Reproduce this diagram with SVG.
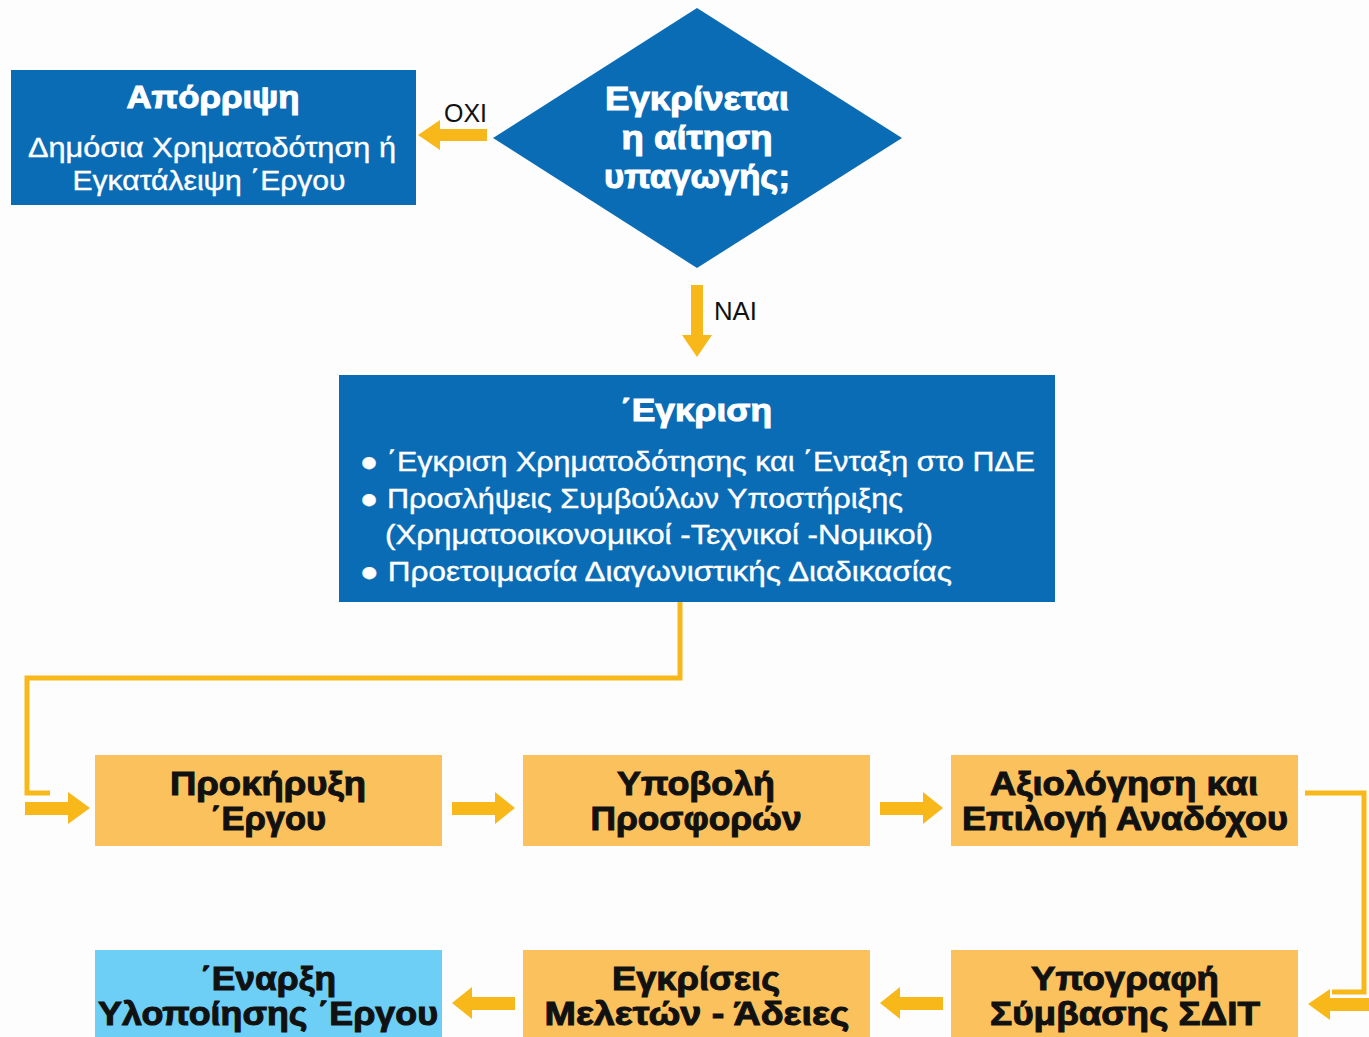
<svg xmlns="http://www.w3.org/2000/svg" width="1369" height="1037" viewBox="0 0 1369 1037">
<style>
.blue{fill:#0b6cb6}
.orange{fill:#fbc15d}
.lblue{fill:#6dcff6}
.arr{fill:#f8b81a}
.wire{fill:none;stroke:#f8b81a;stroke-width:5}
.wt{font-family:"Liberation Sans",Arial,sans-serif;fill:#ffffff;text-anchor:middle;stroke:#ffffff;stroke-width:0.4}
.wb{font-family:"Liberation Sans",Arial,sans-serif;fill:#ffffff;font-weight:bold;text-anchor:middle;stroke:#ffffff;stroke-width:1}
.wl{font-family:"Liberation Sans",Arial,sans-serif;fill:#ffffff;font-size:28px;stroke:#ffffff;stroke-width:0.4}
.bk{font-family:"Liberation Sans",Arial,sans-serif;fill:#111111;font-weight:bold;font-size:33px;text-anchor:middle;stroke:#111111;stroke-width:1}
.lab{font-family:"Liberation Sans",Arial,sans-serif;fill:#111111;font-size:25px}
</style>
<rect width="1369" height="1037" fill="#fdfdfd"/>
<g id="connectors">
  <polygon class="arr" points="487,129 440,129 440,120 418,135 440,150 440,141 487,141"/>
  <text class="lab" x="444" y="122" textLength="43" lengthAdjust="spacingAndGlyphs">OXI</text>
  <polygon class="arr" points="691,285 703,285 703,335 712,335 697,357 682,335 691,335"/>
  <text class="lab" x="714" y="320" textLength="43" lengthAdjust="spacingAndGlyphs">NAI</text>
  <polyline class="wire" points="680,602 680,678 27,678 27,793 50,793"/>
  <polygon class="arr" points="25,802 68,802 68,792 90,808 68,824 68,815 25,815"/>
  <polygon class="arr" points="452,802 495,802 495,792 515,808 495,824 495,815 452,815"/>
  <polygon class="arr" points="880,802 923,802 923,792 943,808 923,824 923,815 880,815"/>
  <polyline class="wire" points="1305,793 1364,793 1364,992 1332,992"/>
  <polygon class="arr" points="1369,998 1330,998 1330,989 1308,1004 1330,1020 1330,1011 1369,1011"/>
  <polygon class="arr" points="943,997 900,997 900,987 880,1003 900,1019 900,1010 943,1010"/>
  <polygon class="arr" points="515,997 472,997 472,987 452,1003 472,1019 472,1010 515,1010"/>
</g>
<g id="aporripsi">
  <rect class="blue" x="11" y="70" width="405" height="135"/>
  <text class="wb" x="213" y="108" font-size="31" textLength="173" lengthAdjust="spacingAndGlyphs">Απόρριψη</text>
  <text class="wt" x="212" y="157" font-size="28" textLength="368" lengthAdjust="spacingAndGlyphs">Δημόσια Χρηματοδότηση ή</text>
  <text class="wt" x="209" y="190" font-size="28" textLength="273" lengthAdjust="spacingAndGlyphs">Εγκατάλειψη ΄Εργου</text>
</g>
<g id="decision">
  <polygon class="blue" points="697,8 902,138 697,268 493,138"/>
  <text class="wb" x="697" y="110" font-size="33" textLength="184" lengthAdjust="spacingAndGlyphs">Εγκρίνεται</text>
  <text class="wb" x="697" y="149" font-size="33" textLength="151" lengthAdjust="spacingAndGlyphs">η αίτηση</text>
  <text class="wb" x="697" y="188" font-size="33" textLength="186" lengthAdjust="spacingAndGlyphs">υπαγωγής;</text>
</g>
<g id="egkrisi">
  <rect class="blue" x="339" y="375" width="716" height="227"/>
  <text class="wb" x="696" y="421" font-size="31" textLength="152" lengthAdjust="spacingAndGlyphs">΄Εγκριση</text>
  <text class="wl" x="360" y="471" textLength="675" lengthAdjust="spacingAndGlyphs">● ΄Εγκριση Χρηματοδότησης και ΄Ενταξη στο ΠΔΕ</text>
  <text class="wl" x="360" y="508" textLength="543" lengthAdjust="spacingAndGlyphs">● Προσλήψεις Συμβούλων Υποστήριξης</text>
  <text class="wl" x="385" y="544" textLength="548" lengthAdjust="spacingAndGlyphs">(Χρηματοοικονομικοί -Τεχνικοί -Νομικοί)</text>
  <text class="wl" x="360" y="581" textLength="592" lengthAdjust="spacingAndGlyphs">● Προετοιμασία Διαγωνιστικής Διαδικασίας</text>
</g>
<g id="prokiryxi">
  <rect class="orange" x="95" y="755" width="347" height="91"/>
  <text class="bk" x="268" y="795" textLength="196" lengthAdjust="spacingAndGlyphs">Προκήρυξη</text>
  <text class="bk" x="268" y="830" textLength="116" lengthAdjust="spacingAndGlyphs">΄Εργου</text>
</g>
<g id="ypovoli">
  <rect class="orange" x="523" y="755" width="347" height="91"/>
  <text class="bk" x="696" y="795" textLength="158" lengthAdjust="spacingAndGlyphs">Υποβολή</text>
  <text class="bk" x="696" y="830" textLength="211" lengthAdjust="spacingAndGlyphs">Προσφορών</text>
</g>
<g id="axiologisi">
  <rect class="orange" x="951" y="755" width="347" height="91"/>
  <text class="bk" x="1124" y="795" textLength="268" lengthAdjust="spacingAndGlyphs">Αξιολόγηση και</text>
  <text class="bk" x="1125" y="830" textLength="326" lengthAdjust="spacingAndGlyphs">Επιλογή Αναδόχου</text>
</g>
<g id="enarxi">
  <rect class="lblue" x="95" y="950" width="347" height="87"/>
  <text class="bk" x="268" y="990" textLength="136" lengthAdjust="spacingAndGlyphs">΄Εναρξη</text>
  <text class="bk" x="268" y="1025" textLength="340" lengthAdjust="spacingAndGlyphs">Υλοποίησης ΄Εργου</text>
</g>
<g id="egkriseis">
  <rect class="orange" x="523" y="950" width="347" height="87"/>
  <text class="bk" x="696" y="990" textLength="168" lengthAdjust="spacingAndGlyphs">Εγκρίσεις</text>
  <text class="bk" x="697" y="1025" textLength="305" lengthAdjust="spacingAndGlyphs">Μελετών - Άδειες</text>
</g>
<g id="ypografi">
  <rect class="orange" x="951" y="950" width="347" height="87"/>
  <text class="bk" x="1125" y="990" textLength="188" lengthAdjust="spacingAndGlyphs">Υπογραφή</text>
  <text class="bk" x="1125" y="1025" textLength="270" lengthAdjust="spacingAndGlyphs">Σύμβασης ΣΔΙΤ</text>
</g>
</svg>
